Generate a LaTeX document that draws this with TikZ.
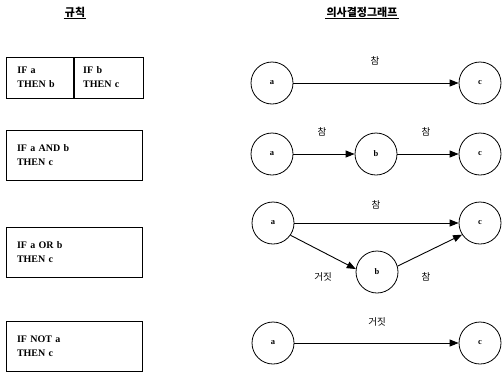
\documentclass[tikz,border=0pt]{standalone}
\usepackage{fontspec}
\setmainfont{Liberation Serif}
\newfontfamily\kr{Noto Sans CJK KR}
\usetikzlibrary{arrows.meta}

\begin{document}
\begin{tikzpicture}[x=1pt,y=-1pt,
  head/.style={font=\kr\bfseries\fontsize{11}{12}\selectfont, inner sep=1pt},
  rulebox/.style={draw, line width=0.8pt, inner xsep=11pt, text width=114pt,
    minimum height=50pt, align=left,
    font=\bfseries\fontsize{10}{14}\selectfont},
  halfbox/.style={draw, line width=0.8pt, minimum height=41pt, align=left,
    font=\bfseries\fontsize{10}{14}\selectfont},
  state/.style={draw, circle, minimum size=42pt, inner sep=0pt, line width=0.8pt,
    font=\bfseries\fontsize{8.5}{9}\selectfont},
  flow/.style={-{Triangle[length=9pt,width=7pt]}, line width=0.9pt},
  lab/.style={font=\kr\fontsize{9.5}{10}\selectfont}]
\useasboundingbox (0,0) rectangle (502,375);

% column headings
\node[head] (h1) at (75,12) {규칙};
\node[head] (h2) at (362,12) {의사결정그래프};
\draw[line width=1.2pt] (h1.south west) -- (h1.south east);
\draw[line width=1.2pt] (h2.south west) -- (h2.south east);

% rules
\node[halfbox, inner xsep=11pt, text width=45pt, anchor=west] (r1a) at (6,77.5) {IF a\\THEN b};
\node[halfbox, inner xsep=9pt, text width=51pt, anchor=west] (r1b) at (r1a.east) {IF b\\THEN c};
\node[rulebox] (r2) at (74,155) {IF a AND b\\THEN c};
\node[rulebox] (r3) at (74,252) {IF a OR b\\THEN c};
\node[rulebox] (r4) at (74,346.5) {IF NOT a\\THEN c};

% graph 1: chain collapsed
\node[state] (a1) at (272,83) {a};
\node[state] (c1) at (480,83) {c};
\draw[flow] (a1) -- (c1);
\node[lab] (t1) at (375,61) {참};

% graph 2: a -> b -> c
\node[state] (a2) at (272,154) {a};
\node[state] (b2) at (376,154) {b};
\node[state] (c2) at (480,154) {c};
\draw[flow] (a2) -- (b2);
\draw[flow] (b2) -- (c2);
\node[lab] (t2a) at (322,132) {참};
\node[lab] (t2b) at (426,132) {참};

% graph 3: a -> c, or a -> b -> c
\node[state] (a3) at (273,223) {a};
\node[state] (c3) at (480,223) {c};
\node[state] (b3) at (377,272) {b};
\draw[flow] (a3) -- (c3);
\draw[flow] (a3.325) -- (b3.172);
\draw[flow] (b3.16) -- (c3.213);
\node[lab] (t3a) at (376,205) {참};
\node[lab] (t3b) at (323,277) {거짓};
\node[lab] (t3c) at (426,277) {참};

% graph 4: not a -> c
\node[state] (a4) at (273,343) {a};
\node[state] (c4) at (480,343) {c};
\draw[flow] (a4) -- (c4);
\node[lab] (t4) at (377,322) {거짓};
\end{tikzpicture}
\end{document}
